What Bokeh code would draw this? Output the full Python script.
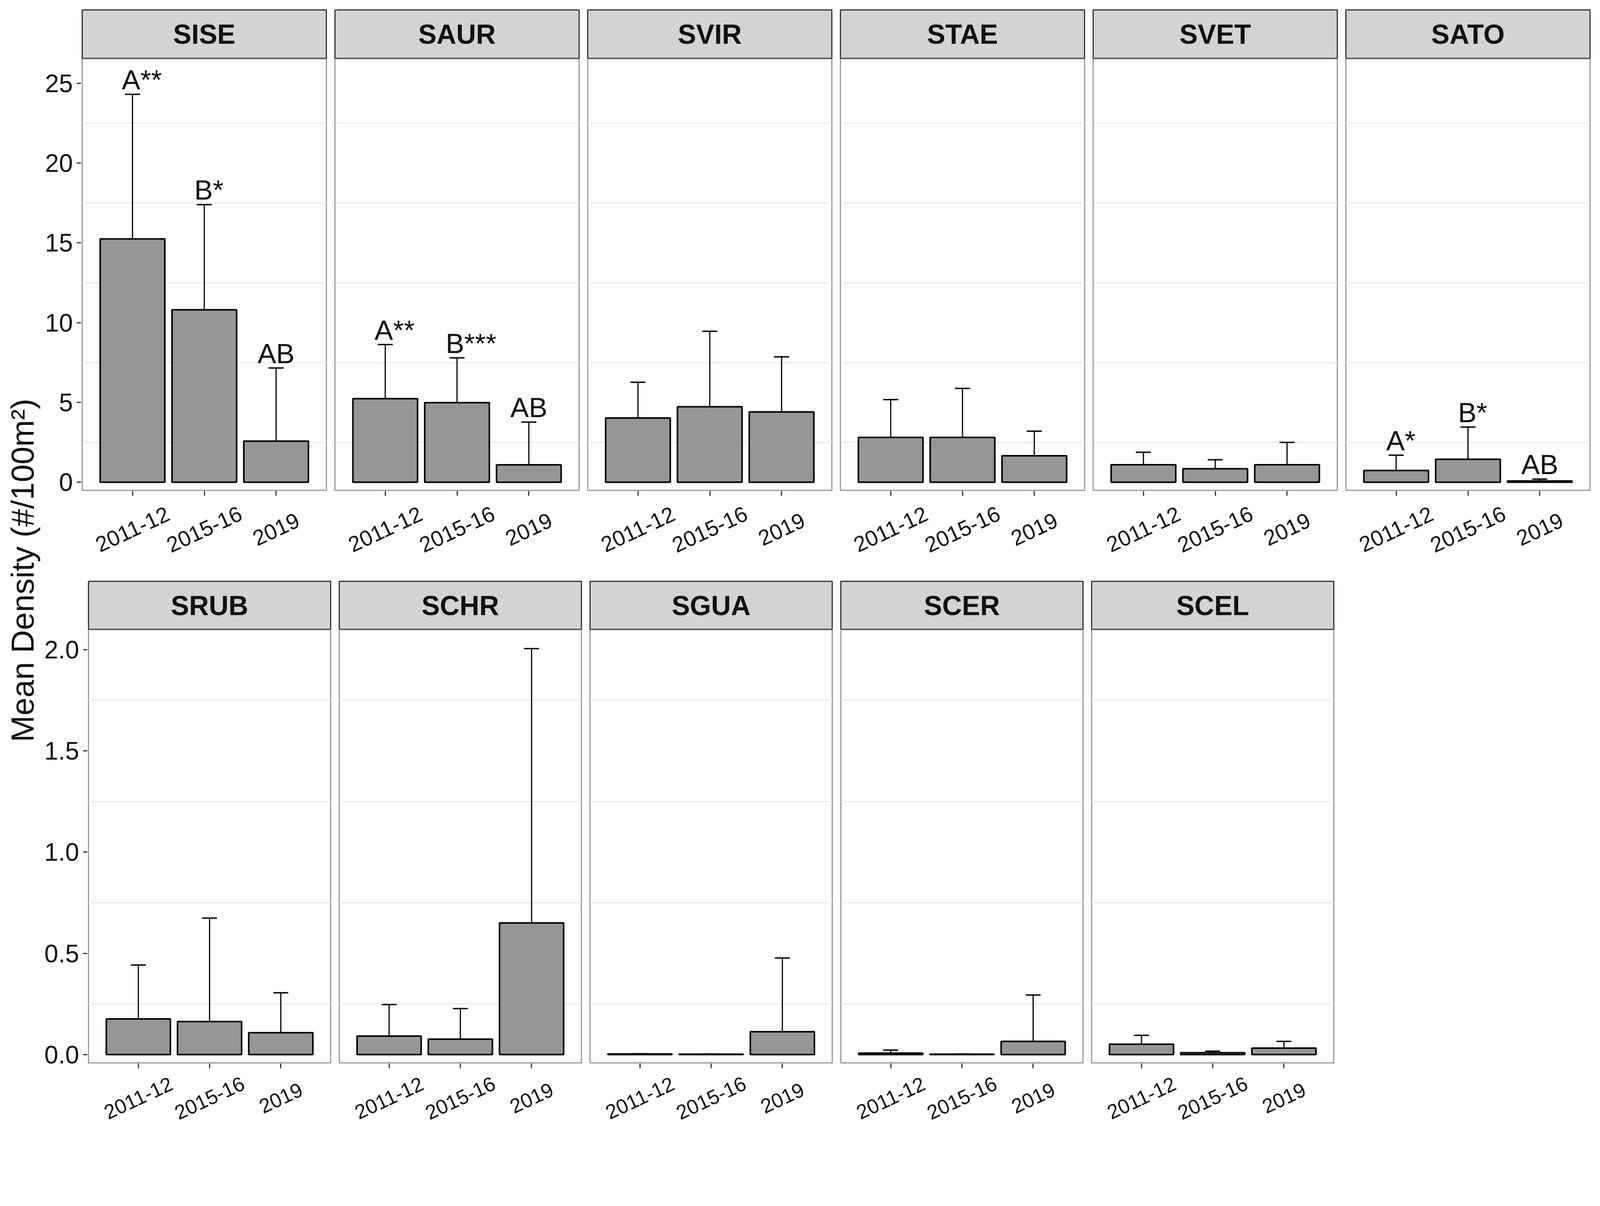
import math
from bokeh.plotting import figure
from bokeh.layouts import row, column
from bokeh.models import Range1d, FixedTicker, PrintfTickFormatter, ColumnDataSource, Spacer
from bokeh.core.properties import value
from bokeh.embed import file_html
from bokeh.resources import INLINE

# ---------------- data ----------------
periods = ["2011-12", "2015-16", "2019"]

top_species = ["SISE", "SAUR", "SVIR", "STAE", "SVET", "SATO"]
bottom_species = ["SRUB", "SCHR", "SGUA", "SCER", "SCEL"]

sise_mean = [15.25, 10.81, 2.58]
sise_upper = [24.31, 17.40, 7.16]
sise_letters = ["A**", "B*", "AB"]

saur_mean = [5.24, 4.99, 1.09]
saur_upper = [8.63, 7.80, 3.77]
saur_letters = ["A**", "B***", "AB"]

svir_mean = [4.03, 4.73, 4.41]
svir_upper = [6.27, 9.46, 7.86]

stae_mean = [2.81, 2.81, 1.66]
stae_upper = [5.18, 5.88, 3.20]

svet_mean = [1.10, 0.85, 1.10]
svet_upper = [1.88, 1.41, 2.50]

sato_mean = [0.74, 1.44, 0.08]
sato_upper = [1.70, 3.46, 0.20]
sato_letters = ["A*", "B*", "AB"]

srub_mean = [0.176, 0.163, 0.108]
srub_upper = [0.442, 0.674, 0.305]

schr_mean = [0.091, 0.076, 0.650]
schr_upper = [0.247, 0.227, 2.005]

sgua_mean = [0.003, 0.002, 0.113]
sgua_upper = [0.004, 0.003, 0.477]

scer_mean = [0.007, 0.002, 0.065]
scer_upper = [0.022, 0.003, 0.294]

scel_mean = [0.051, 0.009, 0.032]
scel_upper = [0.095, 0.017, 0.065]

top_ticks = [0, 5, 10, 15, 20, 25]
top_grid = [2.5, 7.5, 12.5, 17.5, 22.5]
bottom_ticks = [0.0, 0.5, 1.0, 1.5, 2.0]
bottom_grid = [0.25, 0.75, 1.25, 1.75]

y_title = "Mean Density (#/100m\u00b2)"

series = {
    "SISE": (sise_mean, sise_upper, sise_letters),
    "SAUR": (saur_mean, saur_upper, saur_letters),
    "SVIR": (svir_mean, svir_upper, None),
    "STAE": (stae_mean, stae_upper, None),
    "SVET": (svet_mean, svet_upper, None),
    "SATO": (sato_mean, sato_upper, sato_letters),
    "SRUB": (srub_mean, srub_upper, None),
    "SCHR": (schr_mean, schr_upper, None),
    "SGUA": (sgua_mean, sgua_upper, None),
    "SCER": (scer_mean, scer_upper, None),
    "SCEL": (scel_mean, scel_upper, None),
}

# ---------------- style / geometry ----------------
S = 0.9375  # page pixel scale


def s(v):
    return max(0, int(round(v * S)))


def fs(v):
    return "%dpx" % s(v)


FONT = "'Liberation Sans', Arial, sans-serif"
BAR_FILL = "#969696"
STRIP_FILL = "#d3d3d3"
TEXT_COL = "#111111"
GRID_COL = "#ebebeb"
BORDER_COL = "#9a9a9a"
CAP_HALF = 0.105
X_START, X_END = 0.3, 3.7
ANGLE = math.radians(25)


def bare(fw, fh, xr, yr, lb=0, rb=0, tb=0, bb=0, xloc=None, yloc=None):
    p = figure(frame_width=fw, frame_height=fh, x_range=xr, y_range=yr,
               output_backend="svg", toolbar_location=None,
               x_axis_location=xloc, y_axis_location=yloc,
               min_border_left=lb, min_border_right=rb,
               min_border_top=tb, min_border_bottom=bb)
    p.xgrid.visible = False
    p.ygrid.visible = False
    p.outline_line_color = None
    p.background_fill_color = "white"
    p.border_fill_color = "white"
    return p


def axis_column(lb, strip_total, panel_h, y_start, y_end, ticks, fmt):
    a = bare(1, panel_h, Range1d(0, 1), Range1d(y_start, y_end), lb=lb, bb=s(60), yloc="left")
    ya = a.yaxis[0]
    ya.ticker = FixedTicker(ticks=ticks)
    if fmt:
        ya.formatter = PrintfTickFormatter(format=fmt)
    ya.major_label_text_font = FONT
    ya.major_label_text_font_size = fs(68)
    ya.major_label_text_color = TEXT_COL
    ya.major_label_standoff = s(11)
    ya.major_tick_out = s(12)
    ya.major_tick_in = 0
    ya.minor_tick_line_color = None
    ya.axis_line_color = None
    ya.major_tick_line_color = "#333333"
    ya.major_tick_line_width = 3
    return column(Spacer(width=lb + 1, height=strip_total), a, spacing=0)


def make_column(name, fw, lb, rb, strip_tb, strip_h, panel_h, label_h, y_start, y_end, grid,
                label_drop, label_size):
    means, uppers, letters = series[name]
    xs = [i + 1 for i in range(len(periods))]
    xr = Range1d(X_START, X_END)

    # strip
    st = bare(fw, strip_h, Range1d(0, 1), Range1d(0, 1), lb=lb, rb=rb, tb=strip_tb)
    st.background_fill_color = STRIP_FILL
    st.outline_line_color = "#333333"
    st.outline_line_width = 3
    st.text(x=[0.5], y=[0.5], text=[name], text_align="center", text_baseline="middle",
            text_font=value(FONT), text_font_style="bold", text_font_size=fs(75),
            text_color=TEXT_COL)

    # panel
    p = bare(fw, panel_h, xr, Range1d(y_start, y_end), lb=lb, rb=rb, bb=2)
    p.outline_line_color = BORDER_COL
    p.outline_line_width = 3
    p.ygrid.visible = True
    p.ygrid.ticker = FixedTicker(ticks=grid)
    p.ygrid.grid_line_color = GRID_COL
    p.ygrid.grid_line_width = 3

    p.vbar(x=xs, width=0.9, bottom=0, top=means, fill_color=BAR_FILL,
           line_color="black", line_width=4)
    p.segment(x0=xs, y0=means, x1=xs, y1=uppers, line_color="black", line_width=3)
    p.segment(x0=[x - CAP_HALF for x in xs], y0=uppers,
              x1=[x + CAP_HALF for x in xs], y1=uppers,
              line_color="black", line_width=3.5)

    if letters:
        src = ColumnDataSource(dict(
            x=xs, y=uppers, t=letters,
            dx=[s(13) * lab.count("*") for lab in letters]))
        p.text(x="x", y="y", text="t", source=src, x_offset="dx", y_offset=-s(39),
               text_align="center", text_baseline="middle",
               text_font=value(FONT), text_font_size=fs(76), text_color=TEXT_COL)

    # tick marks + rotated category labels
    lab = bare(fw, label_h, xr, Range1d(0, label_h), lb=lb, rb=rb, xloc="above")
    xa = lab.xaxis[0]
    xa.ticker = FixedTicker(ticks=xs)
    xa.major_label_overrides = {1: "", 2: "", 3: ""}
    xa.major_label_text_font_size = "1px"
    xa.major_label_standoff = 0
    xa.major_tick_out = 0
    xa.major_tick_in = s(13)
    xa.minor_tick_line_color = None
    xa.axis_line_color = None
    xa.major_tick_line_color = "#333333"
    xa.major_tick_line_width = 3
    lab.text(x=xs, y=[label_h - s(label_drop)] * len(xs), text=periods, angle=ANGLE,
             text_align="center", text_baseline="middle",
             text_font=value(FONT), text_font_size=fs(label_size), text_color=TEXT_COL)

    return column(st, p, lab, spacing=0)


# ----- geometry in reference pixels, scaled by S -----
ORIGIN = 8.5
TITLE_W = s(120 - ORIGIN)

# top row
T_STRIP_TB = s(35 - ORIGIN)
T_STRIP_H = s(133)
T_PANEL_H = s(1179)
T_LABEL_H = s(1592 - 1349)
T_FW = s(667)
# bottom row
B_STRIP_TB = s(3)
B_STRIP_H = s(132)
B_PANEL_H = s(1183)
B_LABEL_H = s(3078 - 2912)
B_FW = s(661)

top_items = [axis_column(s(229 - 120), T_STRIP_TB + T_STRIP_H, T_PANEL_H,
                         -0.505, 26.54, top_ticks, None)]
for i, name in enumerate(top_species):
    top_items.append(make_column(name, T_FW, 2 if i == 0 else s(21), 2,
                                 T_STRIP_TB, T_STRIP_H, T_PANEL_H, T_LABEL_H,
                                 -0.505, 26.54, top_grid, 104, 60))

bottom_items = [axis_column(s(246 - 120), B_STRIP_TB + B_STRIP_H, B_PANEL_H,
                            -0.041, 2.098, bottom_ticks, "%.1f")]
for i, name in enumerate(bottom_species):
    bottom_items.append(make_column(name, B_FW, 2 if i == 0 else s(21), 2,
                                    B_STRIP_TB, B_STRIP_H, B_PANEL_H, B_LABEL_H,
                                    -0.041, 2.098, bottom_grid, 94, 56))

TOTAL_H = (T_STRIP_TB + T_STRIP_H + T_PANEL_H + 2 + T_LABEL_H +
           B_STRIP_TB + B_STRIP_H + B_PANEL_H + 2 + B_LABEL_H)

yt = bare(TITLE_W, TOTAL_H, Range1d(0, TITLE_W), Range1d(0, TOTAL_H))
yt.text(x=[s(69 - ORIGIN)], y=[TOTAL_H - s(1566 - ORIGIN)], text=[y_title], angle=math.pi / 2,
        text_align="center", text_baseline="middle",
        text_font=value(FONT), text_font_size=fs(88), text_color=TEXT_COL)

layout = row(yt, column(row(*top_items, spacing=0), row(*bottom_items, spacing=0), spacing=0),
             spacing=0)

open("out.html", "w").write(file_html(layout, INLINE))
